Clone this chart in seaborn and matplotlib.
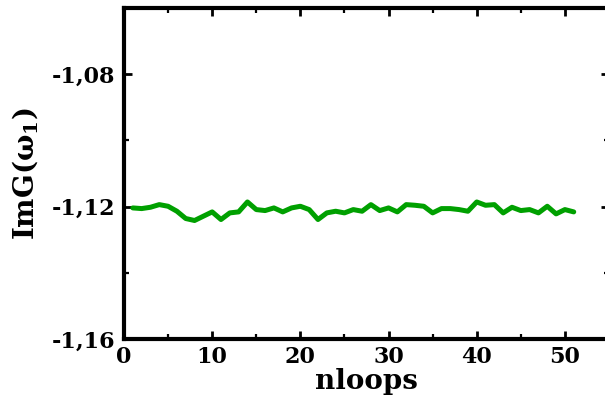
import matplotlib
matplotlib.use("Agg")
import matplotlib.pyplot as plt
import matplotlib.ticker as mticker
import seaborn as sns
import pandas as pd

nloops = list(range(1, 52))
img_g = [-1.1204, -1.1206, -1.1202, -1.1194, -1.1199, -1.1214, -1.1236, -1.1242,
         -1.1229, -1.1216, -1.1239, -1.1219, -1.1216, -1.1186, -1.1209, -1.1212,
         -1.1204, -1.1216, -1.1204, -1.1199, -1.1209, -1.1239, -1.1219, -1.1214,
         -1.1219, -1.1209, -1.1214, -1.1194, -1.1212, -1.1204, -1.1216, -1.1194,
         -1.1196, -1.1199, -1.1219, -1.1206, -1.1206, -1.1209, -1.1214, -1.1186,
         -1.1196, -1.1194, -1.1219, -1.1202, -1.1212, -1.1209, -1.1219, -1.1199,
         -1.1222, -1.1209, -1.1216]

df = pd.DataFrame({"nloops": nloops, "ImG": img_g})

sns.set_theme(style="white")
plt.rcParams["font.family"] = ["DejaVu Serif"]
plt.rcParams["font.weight"] = "bold"
plt.rcParams["text.color"] = "black"
plt.rcParams["axes.labelcolor"] = "black"
plt.rcParams["xtick.color"] = "black"
plt.rcParams["ytick.color"] = "black"
plt.rcParams["mathtext.fontset"] = "custom"
plt.rcParams["mathtext.rm"] = "DejaVu Serif:bold"
plt.rcParams["mathtext.bf"] = "DejaVu Serif:bold"

fig = plt.figure(figsize=(6.05, 4.09), dpi=100)
ax = fig.add_axes([124 / 605, 1 - 339 / 409, (609 - 124) / 605, (339 - 8) / 409])

sns.lineplot(data=df, x="nloops", y="ImG", ax=ax, color="#00a000", linewidth=3.6)

ax.set_xlim(0, 55)
ax.set_ylim(-1.16, -1.06)
ax.xaxis.set_major_locator(mticker.MultipleLocator(10))
ax.xaxis.set_minor_locator(mticker.MultipleLocator(5))
ax.yaxis.set_major_locator(mticker.FixedLocator([-1.16, -1.12, -1.08]))
ax.yaxis.set_minor_locator(mticker.FixedLocator([-1.14, -1.10]))
ax.yaxis.set_major_formatter(mticker.FuncFormatter(lambda v, p: f"{v:.2f}".replace(".", ",")))

for s in ax.spines.values():
    s.set_linewidth(3)
    s.set_color("black")

ax.tick_params(which="both", direction="in", top=True, right=True, bottom=True, left=True,
               color="black", labelcolor="black")
ax.tick_params(which="major", length=6, width=2)
ax.tick_params(which="minor", length=3.5, width=1.6)
ax.tick_params(axis="x", labelsize=16, pad=5)
ax.tick_params(axis="y", labelsize=16, pad=6)
for lab in ax.get_xticklabels() + ax.get_yticklabels():
    lab.set_fontweight("bold")

ax.set_xlabel("nloops", fontsize=20, fontweight="bold", labelpad=0, color="black")
ax.set_ylabel(r"ImG(ω$_\mathregular{1}$)", fontsize=20, fontweight="bold", labelpad=8, color="black")

fig.savefig("out.png", dpi=100)
